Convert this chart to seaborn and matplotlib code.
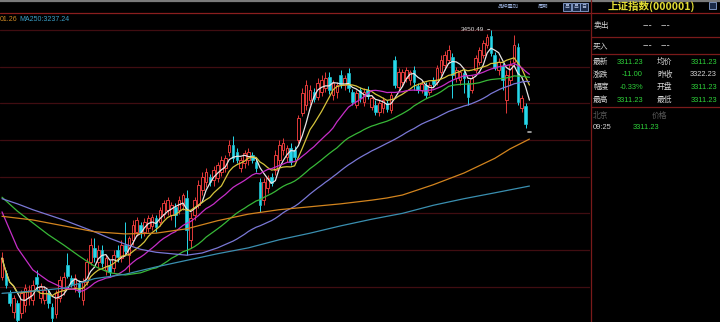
import numpy as np
import pandas as pd
import matplotlib
matplotlib.use("Agg")
import matplotlib.pyplot as plt
import seaborn as sns
from matplotlib.patches import Rectangle

# ---------------- data ----------------
opens = [3113, 3119, 3091, 3066, 3078, 3064, 3075, 3085, 3082, 3113,
         3085, 3082, 3091, 3072, 3063, 3085, 3096, 3130, 3112, 3100,
         3105, 3082, 3106, 3134, 3153, 3134, 3150, 3123, 3130, 3126,
         3150, 3139, 3157, 3143, 3164, 3175, 3184, 3175, 3180, 3183,
         3194, 3188, 3199, 3205, 3198, 3209, 3205, 3211, 3221, 3164,
         3198, 3211, 3232, 3243, 3250, 3245, 3248, 3256, 3262, 3284,
         3293, 3284, 3262, 3269, 3273, 3280, 3270, 3243, 3218, 3235,
         3250, 3259, 3273, 3286, 3277, 3289, 3286, 3300, 3337, 3348,
         3355, 3365, 3359, 3365, 3371, 3386, 3361, 3365, 3389, 3375,
         3391, 3365, 3348, 3368, 3352, 3368, 3345, 3348, 3338, 3344,
         3350, 3341, 3409, 3372, 3379, 3385, 3382, 3395, 3374, 3368,
         3375, 3365, 3382, 3379, 3393, 3402, 3409, 3413, 3385, 3382,
         3391, 3378, 3368, 3395, 3406, 3416, 3429, 3442, 3416, 3395,
         3401, 3355, 3382, 3406, 3427, 3344, 3346, 3311.23]
closes = [3139, 3102, 3078, 3085, 3055, 3091, 3098, 3096, 3102, 3104,
          3100, 3096, 3078, 3057, 3091, 3109, 3113, 3115, 3104, 3112,
          3093, 3108, 3134, 3157, 3141, 3150, 3132, 3139, 3120, 3143,
          3141, 3157, 3149, 3166, 3184, 3191, 3173, 3188, 3194, 3195,
          3181, 3205, 3214, 3218, 3211, 3198, 3218, 3225, 3177, 3194,
          3218, 3239, 3250, 3256, 3243, 3259, 3266, 3273, 3275, 3293,
          3275, 3273, 3273, 3282, 3284, 3273, 3262, 3211, 3243, 3248,
          3241, 3280, 3293, 3296, 3289, 3270, 3277, 3330, 3364, 3375,
          3368, 3356, 3378, 3382, 3385, 3368, 3378, 3375, 3376, 3385,
          3371, 3352, 3364, 3357, 3365, 3360, 3357, 3338, 3350, 3355,
          3342, 3361, 3375, 3393, 3393, 3395, 3393, 3379, 3368, 3376,
          3361, 3375, 3376, 3398, 3409, 3416, 3423, 3389, 3395, 3393,
          3385, 3359, 3385, 3412, 3423, 3432, 3440, 3419, 3398, 3406,
          3382, 3389, 3402, 3429, 3352, 3357, 3322.23, 3311.23]
highs = [3147, 3123, 3096, 3089, 3082, 3096, 3104, 3102, 3109, 3123,
         3105, 3101, 3096, 3078, 3096, 3115, 3120, 3146, 3116, 3117,
         3109, 3112, 3139, 3166, 3166, 3157, 3157, 3143, 3136, 3150,
         3157, 3164, 3188, 3169, 3191, 3195, 3188, 3194, 3198, 3199,
         3198, 3209, 3218, 3222, 3215, 3214, 3224, 3228, 3232, 3202,
         3222, 3245, 3256, 3262, 3254, 3265, 3270, 3278, 3280, 3300,
         3305, 3289, 3277, 3286, 3289, 3284, 3275, 3248, 3248, 3252,
         3255, 3286, 3300, 3303, 3293, 3296, 3292, 3334, 3371, 3382,
         3375, 3371, 3385, 3389, 3393, 3393, 3382, 3379, 3395, 3389,
         3398, 3370, 3368, 3372, 3371, 3374, 3361, 3355, 3355, 3359,
         3355, 3365, 3414, 3398, 3397, 3399, 3395, 3401, 3378, 3382,
         3379, 3379, 3386, 3402, 3416, 3421, 3429, 3419, 3399, 3395,
         3395, 3382, 3389, 3416, 3427, 3436, 3445, 3450.49, 3420, 3412,
         3405, 3395, 3409, 3443, 3432, 3361, 3350, 3311.23]
lows = [3109, 3098, 3074, 3057, 3041, 3057, 3066, 3075, 3075, 3096,
        3078, 3076, 3071, 3041, 3057, 3079, 3089, 3112, 3100, 3093,
        3086, 3075, 3102, 3130, 3134, 3126, 3127, 3116, 3113, 3120,
        3134, 3134, 3145, 3120, 3157, 3169, 3166, 3169, 3175, 3177,
        3175, 3183, 3194, 3198, 3191, 3181, 3199, 3205, 3143, 3153,
        3191, 3207, 3225, 3236, 3237, 3237, 3243, 3251, 3256, 3278,
        3270, 3269, 3256, 3262, 3266, 3269, 3256, 3202, 3211, 3228,
        3237, 3252, 3266, 3280, 3270, 3266, 3273, 3296, 3333, 3341,
        3348, 3352, 3355, 3360, 3365, 3363, 3355, 3357, 3371, 3368,
        3365, 3348, 3344, 3352, 3346, 3356, 3341, 3334, 3333, 3337,
        3338, 3337, 3371, 3368, 3374, 3379, 3375, 3368, 3364, 3364,
        3357, 3361, 3372, 3375, 3387, 3395, 3405, 3357, 3379, 3375,
        3364, 3348, 3364, 3391, 3402, 3412, 3425, 3414, 3395, 3389,
        3368, 3337, 3375, 3402, 3348, 3338, 3316, 3311.23]

# early parts of the moving averages (before a full window exists)
ma20_early_idx = [0, 4, 8, 12, 16]
ma20_early = [3202, 3153, 3123, 3108, 3098]
ma40_early_idx = [0, 4, 8, 12, 16, 20, 24, 28, 32, 36]
ma40_early = [3222, 3203, 3187, 3171, 3157, 3142, 3128, 3119, 3116, 3119]
ma60_early_idx = [0, 4, 8, 12, 16, 20, 24, 28, 32, 36, 40, 44, 48, 52, 56]
ma60_early = [3220, 3213, 3205, 3198, 3191, 3183, 3175, 3166, 3158, 3151,
              3147, 3145, 3143, 3146, 3153]
# long averages
ma120_idx = [0, 8, 16, 24, 32, 40, 48, 56, 64, 72, 80, 88, 96, 100, 104,
             108, 112, 116, 120, 124, 128, 132, 137]
ma120 = [3196, 3191, 3183, 3175, 3172, 3173, 3179, 3190, 3199, 3205, 3209,
         3213, 3218, 3221, 3225, 3232, 3239, 3247, 3255, 3265, 3275, 3288, 3301.26]
ma250_idx = [0, 8, 16, 24, 32, 40, 48, 56, 64, 72, 80, 88, 96, 104, 112, 120, 128, 137]
ma250 = [3091, 3094, 3098, 3111, 3117, 3127, 3136, 3145, 3153, 3164,
         3173, 3183, 3192, 3200, 3211, 3220, 3228, 3237.24]

grid_levels = [3100, 3150, 3200, 3250, 3300, 3350, 3400, 3450]

# quote panel
title = "上证指数(000001)"
quote_rows = [("最新", "3311.23", "均价", "3311.23"),
              ("涨跌", "-11.00", "昨收", "3322.23"),
              ("幅度", "-0.33%", "开盘", "3311.23"),
              ("最高", "3311.23", "最低", "3311.23")]
tick_time, tick_price = "09:25", "3311.23"

# ---------------- style ----------------
sns.set_theme(style="dark", rc={"axes.facecolor": "black", "figure.facecolor": "black",
                                "axes.grid": False})
plt.rcParams['font.family'] = ['Noto Sans CJK SC', 'DejaVu Sans']
NUM = ['Liberation Sans Narrow', 'Liberation Sans', 'DejaVu Sans']
CJK = ['Noto Sans CJK SC', 'DejaVu Sans']

W, H = 720, 322
fig = plt.figure(figsize=(W / 100, H / 100), dpi=100, facecolor="black")

ax = fig.add_axes([0, 0, 590 / W, (H - 13) / H])
ax.set_facecolor("black")
step, x0 = 3.85, 2.0
ax.set_xlim(-x0 / step, (590 - x0) / step)
top_px, bot_px = 13, 322
ax.set_ylim(3300 - (bot_px - 140) * 1.363, 3300 + (140 - top_px) * 1.363)
for s in ax.spines.values():
    s.set_visible(False)
ax.set_xticks([]); ax.set_yticks([])

for g in grid_levels:
    ax.axhline(g, color="#400d11", lw=0.9, zorder=0)

n = len(closes)
df = pd.DataFrame({"i": np.arange(n), "open": opens, "close": closes,
                   "high": highs, "low": lows})
RED, CYAN = "#e23a3a", "#26d8ea"
bw = 0.7
for r in df.itertuples():
    if r.i == n - 1:
        ax.plot([r.i - 0.4, r.i + 0.4], [r.close, r.close], color="#b0b0b0", lw=1.2, zorder=3)
        continue
    up = r.close >= r.open
    col = RED if up else CYAN
    lo, hi = min(r.open, r.close), max(r.open, r.close)
    ax.vlines(r.i, r.low, lo, color=col, lw=0.7, zorder=2)
    ax.vlines(r.i, hi, r.high, color=col, lw=0.7, zorder=2)
    if up:
        ax.add_patch(Rectangle((r.i - bw / 2, lo), bw, max(hi - lo, 0.6),
                               facecolor="black", edgecolor=col, lw=0.7, zorder=2))
    else:
        ax.add_patch(Rectangle((r.i - bw / 2, lo), bw, max(hi - lo, 0.6),
                               facecolor=col, edgecolor=col, lw=0.4, zorder=2))

cs = df["close"]


def hybrid(window, early_idx, early_vals):
    roll = cs.rolling(window).mean()
    xs = list(early_idx) + list(range(window - 1, n))
    ys = list(early_vals) + list(roll.iloc[window - 1:])
    return xs, ys


ma5 = cs.rolling(5, min_periods=1).mean()
ma10 = cs.rolling(10, min_periods=1).mean()
sns.lineplot(x=df["i"], y=ma5, ax=ax, color="#e6e6e6", lw=0.9, zorder=4)
sns.lineplot(x=df["i"], y=ma10, ax=ax, color="#d6c43c", lw=0.9, zorder=4)
for (xs, ys), col in [(hybrid(20, ma20_early_idx, ma20_early), "#c62ec8"),
                      (hybrid(40, ma40_early_idx, ma40_early), "#38b838"),
                      (hybrid(60, ma60_early_idx, ma60_early), "#7a78d6"),
                      ((ma120_idx, ma120), "#d2841e"),
                      ((ma250_idx, ma250), "#3a8fb0")]:
    sns.lineplot(x=xs, y=ys, ax=ax, color=col, lw=0.9, zorder=4)
ax.set_xlabel(""); ax.set_ylabel("")

hi_i = int(np.argmax(highs))
ax.annotate(f"{highs[hi_i]:.2f}", xy=(hi_i - 0.3, highs[hi_i]), xytext=(-4, 0),
            textcoords="offset points", ha="right", va="center", color="#d8d8d8",
            fontsize=4.6, family=NUM,
            arrowprops=dict(arrowstyle="-", color="#c8c8c8", lw=0.6, shrinkA=0, shrinkB=0))

# ---------------- overlay in pixel coordinates ----------------
ov = fig.add_axes([0, 0, 1, 1], facecolor="none")
ov.set_xlim(0, W); ov.set_ylim(H, 0); ov.axis("off")

ov.plot([0, W], [0.8, 0.8], color="#7a7a7a", lw=1.6)
ov.plot([0, W], [12.8, 12.8], color="#8a1e1e", lw=0.9)
ov.plot([590.5, 590.5], [0, H], color="#7a1a1a", lw=0.9)

ov.text(0, 19, "01.26", color="#d08a24", fontsize=5, family=NUM, va="center")
ov.text(19, 19, "MA250:3237.24", color="#3aa0c8", fontsize=5, family=NUM, va="center")

ov.text(497, 6.5, "品种叠加", color="#9ab0dc", fontsize=3.8, family=CJK, va="center")
ov.text(538, 6.5, "周期", color="#9ab0dc", fontsize=3.8, family=CJK, va="center")
for bx, lab in [(563, "吕"), (571.5, "吕"), (580, "日")]:
    ov.add_patch(Rectangle((bx, 2.5), 8, 8, facecolor="#1a2a48", edgecolor="#8aa4d4", lw=0.6))
    ov.text(bx + 4, 6.7, lab, color="#b8c8ea", fontsize=3.6, family=CJK, ha="center", va="center")
ov.add_patch(Rectangle((709, 2), 7, 7, facecolor="#1a2a48", edgecolor="#8aa4d4", lw=0.6))

ov.text(651, 6.8, title, color="#e2dc34", fontsize=7.6, family=CJK, weight="bold",
        ha="center", va="center")
for yy in [36.5, 53.5, 106.5]:
    ov.plot([591, W], [yy, yy], color="#7a1a1a", lw=0.9)
LBL = "#d4d4d4"; GRN = "#2ed23a"
ov.text(593, 26, "卖出", color=LBL, fontsize=5.6, family=CJK, va="center")
ov.text(593, 46, "买入", color=LBL, fontsize=5.6, family=CJK, va="center")
for yy in [26, 46]:
    ov.text(652, yy, "---", color=LBL, fontsize=6.5, family=['DejaVu Sans'], ha="right", va="center")
    ov.text(670, yy, "---", color=LBL, fontsize=6.5, family=['DejaVu Sans'], ha="right", va="center")
for k, (l1, v1, l2, v2) in enumerate(quote_rows):
    yy = 62 + k * 12.7
    ov.text(593, yy, l1, color=LBL, fontsize=5.6, family=CJK, va="center")
    ov.text(643, yy, v1, color=GRN, fontsize=5.4, family=NUM, ha="right", va="center")
    ov.text(657, yy, l2, color=LBL, fontsize=5.6, family=CJK, va="center")
    c2 = LBL if l2 == "昨收" else GRN
    ov.text(717, yy, v2, color=c2, fontsize=5.4, family=NUM, ha="right", va="center")
ov.text(593, 115.5, "北京", color="#5a5a5a", fontsize=5.6, family=CJK, va="center")
ov.text(652, 115.5, "价格", color="#5a5a5a", fontsize=5.6, family=CJK, va="center")
ov.text(593, 127.5, tick_time, color=LBL, fontsize=5.4, family=NUM, va="center")
ov.text(659, 127.5, tick_price, color=GRN, fontsize=5.4, family=NUM, ha="right", va="center")

fig.savefig("out.png", dpi=100, facecolor="black")
